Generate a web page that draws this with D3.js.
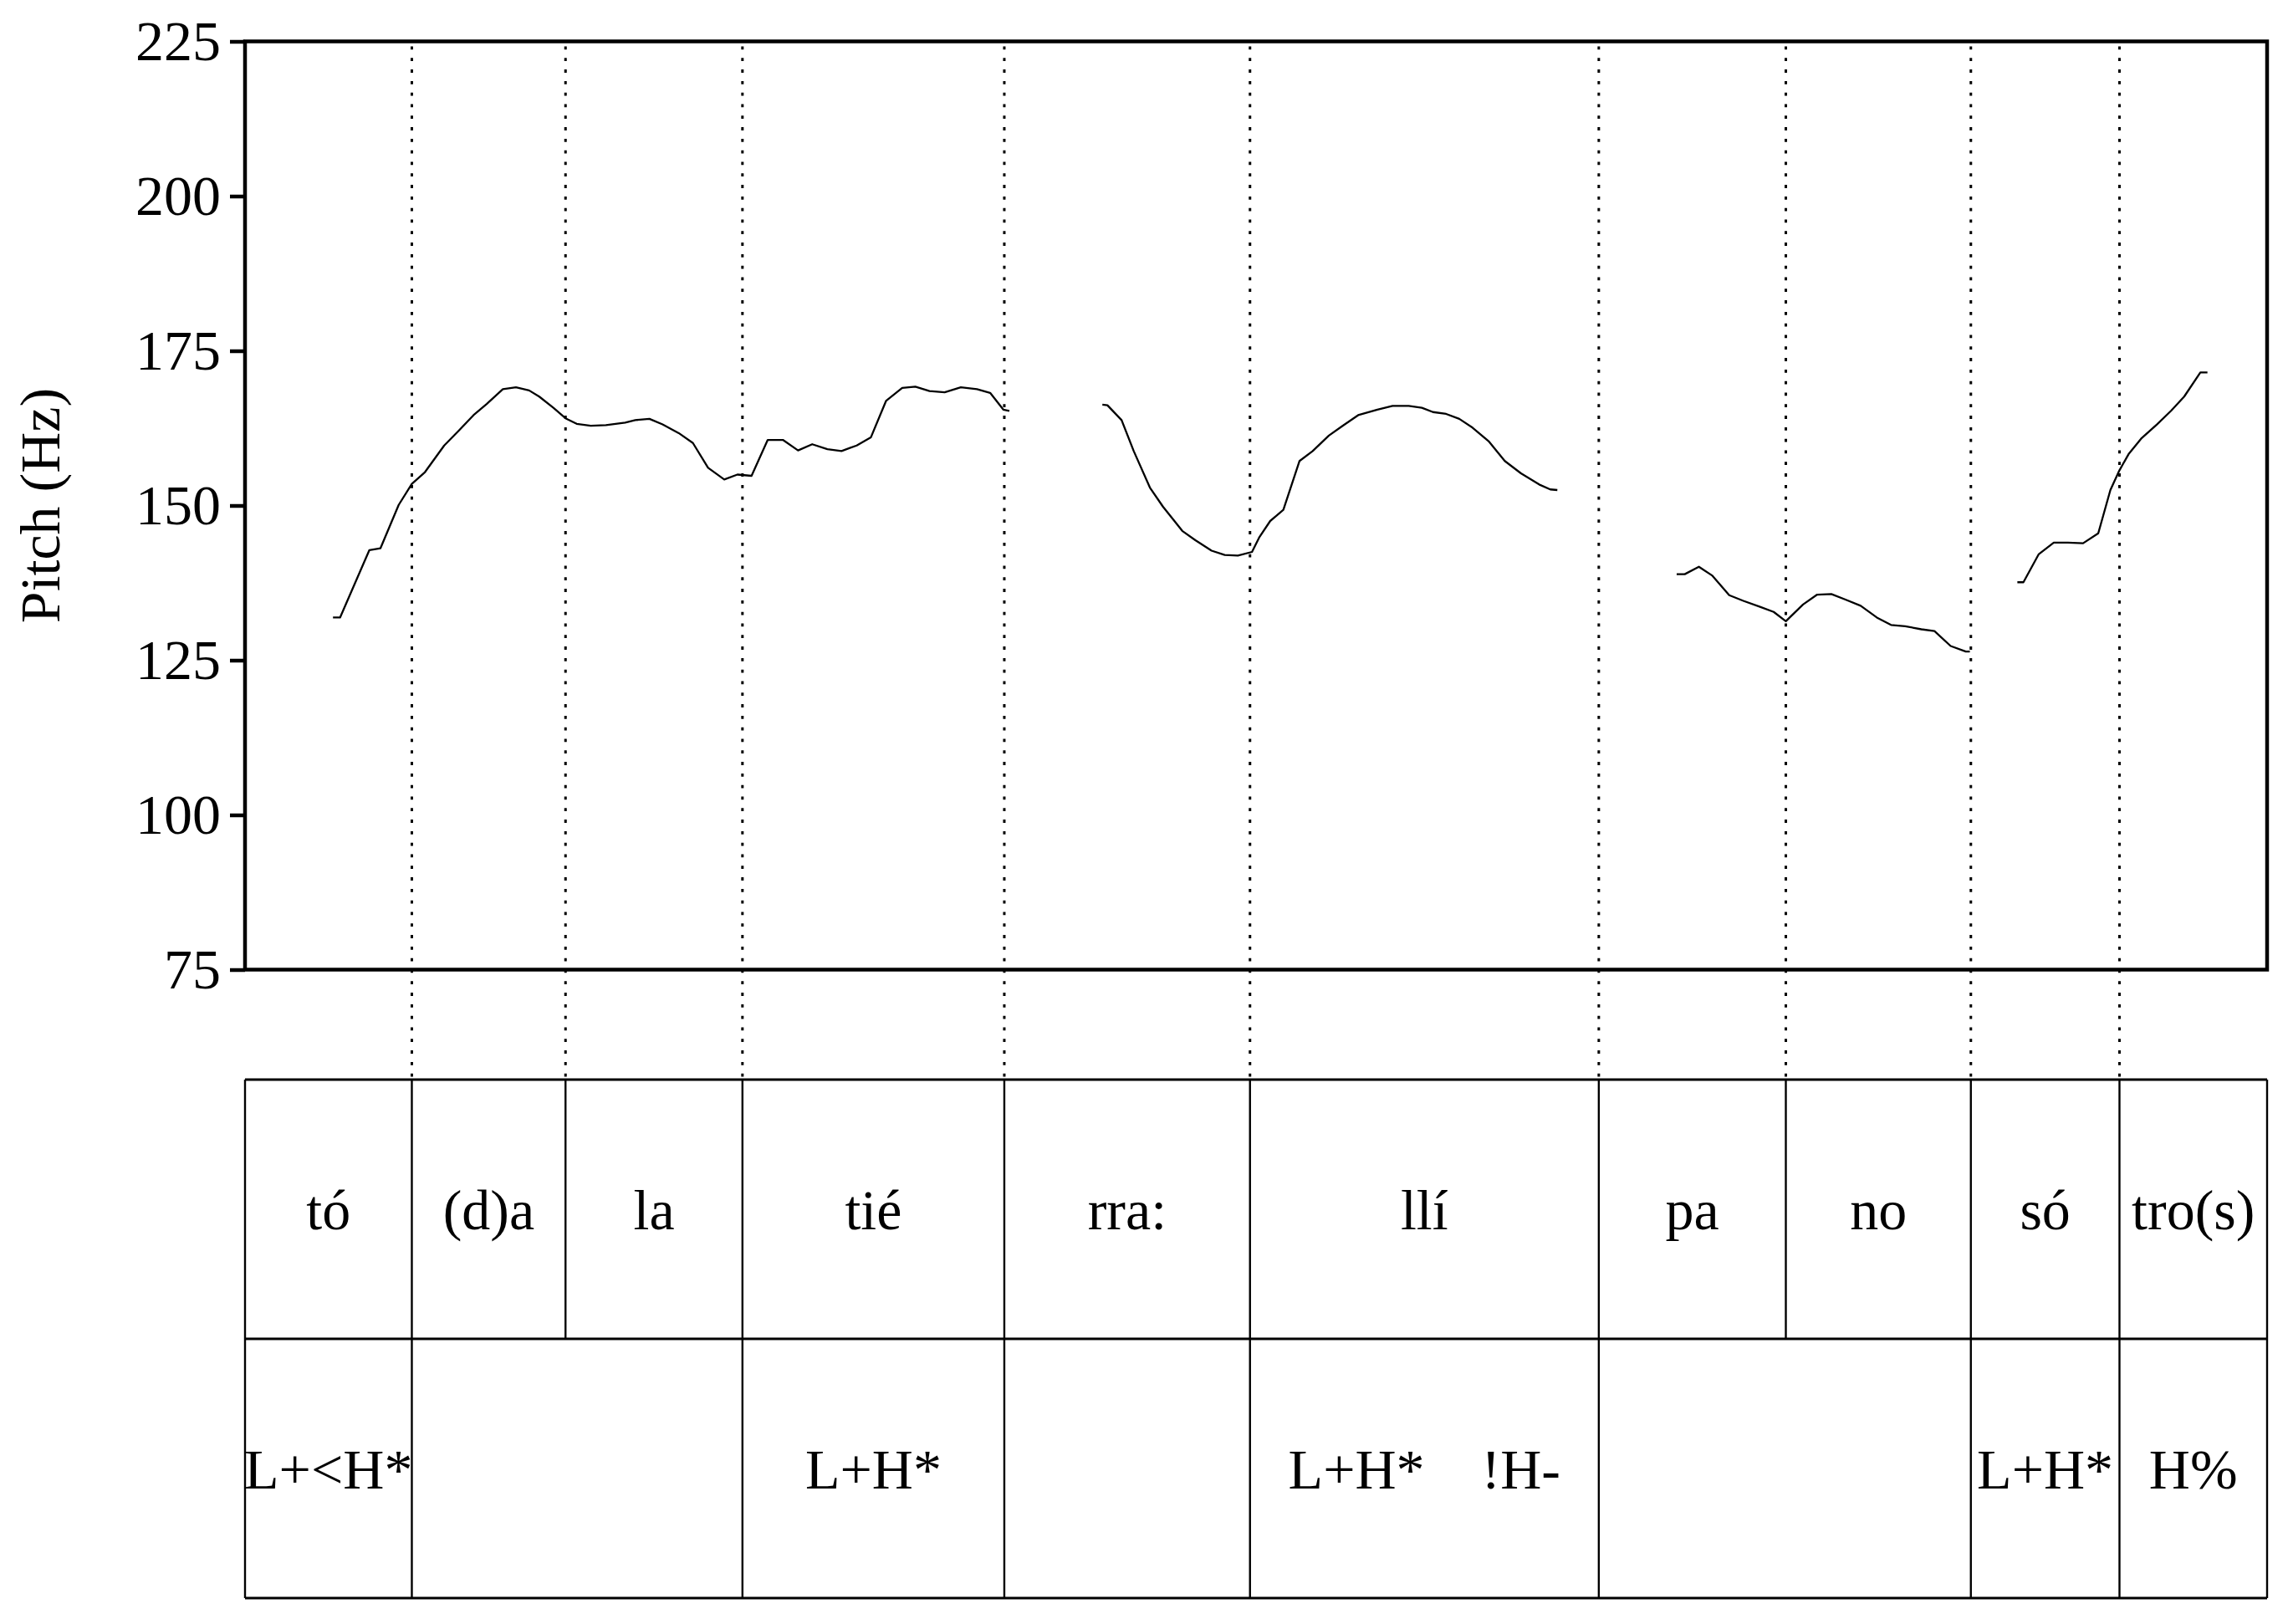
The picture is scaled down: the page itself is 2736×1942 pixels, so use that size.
<!DOCTYPE html>
<html>
<head>
<meta charset="utf-8">
<script src="https://cdn.jsdelivr.net/npm/d3@7"></script>
<style>
    body { margin: 0; background: #fff; }
    text { font-family: "Liberation Serif", "Times New Roman", serif; fill: #000; }
</style>
</head>
<body>
<svg id="graphic"></svg>
<script>

// pitch contour, [time (s), pitch (Hz)], one array per voiced stretch
const pitchA = [
    [0.087, 131.9], [0.094, 131.9], [0.123, 142.8], [0.134, 143.1], [0.152, 150.1],
    [0.165, 153.5], [0.178, 155.4], [0.197, 159.7], [0.212, 162.2], [0.226, 164.6],
    [0.239, 166.4], [0.255, 168.8], [0.268, 169.1], [0.281, 168.6], [0.291, 167.6],
    [0.305, 165.8], [0.317, 164.1], [0.328, 163.2], [0.342, 162.9], [0.357, 163.0],
    [0.376, 163.4], [0.386, 163.8], [0.400, 164.0], [0.413, 163.1], [0.429, 161.7],
    [0.443, 160.1], [0.458, 156.1], [0.474, 154.2], [0.487, 155.0], [0.501, 154.8],
    [0.517, 160.6], [0.532, 160.6], [0.547, 158.9], [0.561, 159.9], [0.576, 159.1],
    [0.590, 158.8], [0.605, 159.7], [0.619, 161.0], [0.634, 166.9], [0.650, 169.0],
    [0.663, 169.2], [0.677, 168.5], [0.692, 168.3], [0.708, 169.1], [0.724, 168.8],
    [0.737, 168.2], [0.750, 165.5], [0.756, 165.3]
]
const pitchB = [
    [0.848, 166.3], [0.853, 166.2], [0.867, 163.8], [0.879, 158.8], [0.895, 152.9],
    [0.908, 149.8], [0.927, 145.9], [0.940, 144.4], [0.956, 142.7], [0.969, 142.0],
    [0.982, 141.9], [0.996, 142.5], [1.003, 144.8], [1.014, 147.5], [1.027, 149.3],
    [1.043, 157.2], [1.056, 158.8], [1.072, 161.3], [1.085, 162.8], [1.101, 164.6],
    [1.120, 165.5], [1.135, 166.1], [1.151, 166.1], [1.164, 165.8], [1.175, 165.1],
    [1.188, 164.8], [1.201, 164.0], [1.214, 162.6], [1.230, 160.4], [1.246, 157.2],
    [1.262, 155.2], [1.280, 153.4], [1.291, 152.6], [1.298, 152.5]
]
const pitchC = [
    [1.416, 138.9], [1.424, 138.9], [1.438, 140.1], [1.451, 138.7], [1.468, 135.5],
    [1.482, 134.6], [1.499, 133.6], [1.512, 132.8], [1.524, 131.3], [1.541, 134.0],
    [1.555, 135.6], [1.569, 135.7], [1.583, 134.8], [1.598, 133.8], [1.614, 131.9],
    [1.628, 130.7], [1.642, 130.5], [1.658, 130.0], [1.671, 129.7], [1.687, 127.3],
    [1.702, 126.4], [1.706, 126.4]
]
const pitchD = [
    [1.753, 137.6], [1.759, 137.6], [1.774, 142.1], [1.789, 144.0], [1.803, 144.0],
    [1.818, 143.9], [1.833, 145.5], [1.845, 152.5], [1.854, 155.7], [1.863, 158.3],
    [1.876, 160.9], [1.891, 163.1], [1.905, 165.3], [1.918, 167.6], [1.934, 171.5],
    [1.941, 171.5]
]

// annotation tiers
const syllables = ["tó", "(d)a", "la", "tié", "rra:", "llí", "pa", "no", "só", "tro(s)"]
const syllableBounds = [0, 0.165, 0.317, 0.492, 0.751, 0.994, 1.339, 1.524, 1.707, 1.854, 2.0]
const tones = ["L+<H*", "", "L+H*", "", "L+H*    !H-", "", "L+H*", "H%"]
const toneBounds = [0, 0.165, 0.492, 0.751, 0.994, 1.339, 1.707, 1.854, 2.0]

const yTicks = [75, 100, 125, 150, 175, 200, 225]
const duration = 2.0

// layout
const w = 2736
const h = 1942
const left = 293
const right = 2711
const plotTop = 49.5
const plotBottom = 1159.5
const tierTop = 1291
const tierHeight = 310
const fontSize = 68

const xScale = d3.scaleLinear()
    .domain([0, duration])
    .range([left, right])

const yScale = d3.scaleLinear()
    .domain([75, 225])
    .range([plotBottom, plotTop])

const graphic = d3.select("#graphic")
    .attr("width", w)
    .attr("height", h)

// dotted boundary lines, from plot top down to the tiers
const allBounds = Array.from(new Set([...syllableBounds, ...toneBounds]))
    .filter(b => b > 0 && b < duration)

graphic.append("g")
    .selectAll("line")
    .data(allBounds)
    .enter()
    .append("line")
    .attr("x1", d => xScale(d))
    .attr("x2", d => xScale(d))
    .attr("y1", plotTop + 6)
    .attr("y2", tierTop)
    .attr("stroke", "#000")
    .attr("stroke-width", 3)
    .attr("stroke-dasharray", "3.8,10")

// pitch line
const line = d3.line()
    .x(d => xScale(d[0]))
    .y(d => yScale(d[1]))

graphic.append("g")
    .selectAll("path")
    .data([pitchA, pitchB, pitchC, pitchD])
    .enter()
    .append("path")
    .attr("d", line)
    .attr("fill", "none")
    .attr("stroke", "#000")
    .attr("stroke-width", 2.3)
    .attr("stroke-linejoin", "round")

// frame
graphic.append("rect")
    .attr("x", left)
    .attr("y", plotTop)
    .attr("width", right - left)
    .attr("height", plotBottom - plotTop)
    .attr("fill", "none")
    .attr("stroke", "#000")
    .attr("stroke-width", 4.5)

// y axis
const axisLeft = d3.axisLeft(yScale)
    .tickValues(yTicks)
    .tickFormat(d3.format("d"))
    .tickSize(18)
    .tickPadding(11)

const yAxis = graphic.append("g")
    .attr("id", "y-axis")
    .attr("transform", `translate(${left}, 0)`)
    .call(axisLeft)

yAxis.select(".domain").remove()
yAxis.selectAll(".tick line").attr("stroke-width", 4.5)
yAxis.selectAll(".tick text")
    .attr("font-size", fontSize)
    .attr("font-family", "Liberation Serif, Times New Roman, serif")
    .attr("dy", "0.33em")

graphic.append("text")
    .attr("transform", `translate(71, ${(plotTop + plotBottom) / 2}) rotate(-90)`)
    .attr("text-anchor", "middle")
    .attr("font-size", fontSize)
    .text("Pitch (Hz)")

// tiers
function drawTier(labels, bounds, top) {
    const g = graphic.append("g")

    g.selectAll("line.bound")
        .data(bounds)
        .enter()
        .append("line")
        .attr("class", "bound")
        .attr("x1", d => xScale(d))
        .attr("x2", d => xScale(d))
        .attr("y1", top)
        .attr("y2", top + tierHeight)
        .attr("stroke", "#000")
        .attr("stroke-width", 2.4)

    g.selectAll("text")
        .data(labels)
        .enter()
        .append("text")
        .attr("x", (d, i) => xScale((bounds[i] + bounds[i + 1]) / 2))
        .attr("y", top + tierHeight / 2)
        .attr("dy", "0.35em")
        .attr("text-anchor", "middle")
        .attr("font-size", fontSize)
        .style("white-space", "pre")
        .text(d => d)
}

drawTier(syllables, syllableBounds, tierTop)
drawTier(tones, toneBounds, tierTop + tierHeight)

graphic.append("g")
    .selectAll("line")
    .data([0, 1, 2])
    .enter()
    .append("line")
    .attr("x1", left)
    .attr("x2", right)
    .attr("y1", d => tierTop + d * tierHeight)
    .attr("y2", d => tierTop + d * tierHeight)
    .attr("stroke", "#000")
    .attr("stroke-width", 2.8)

</script>
</body>
</html>
